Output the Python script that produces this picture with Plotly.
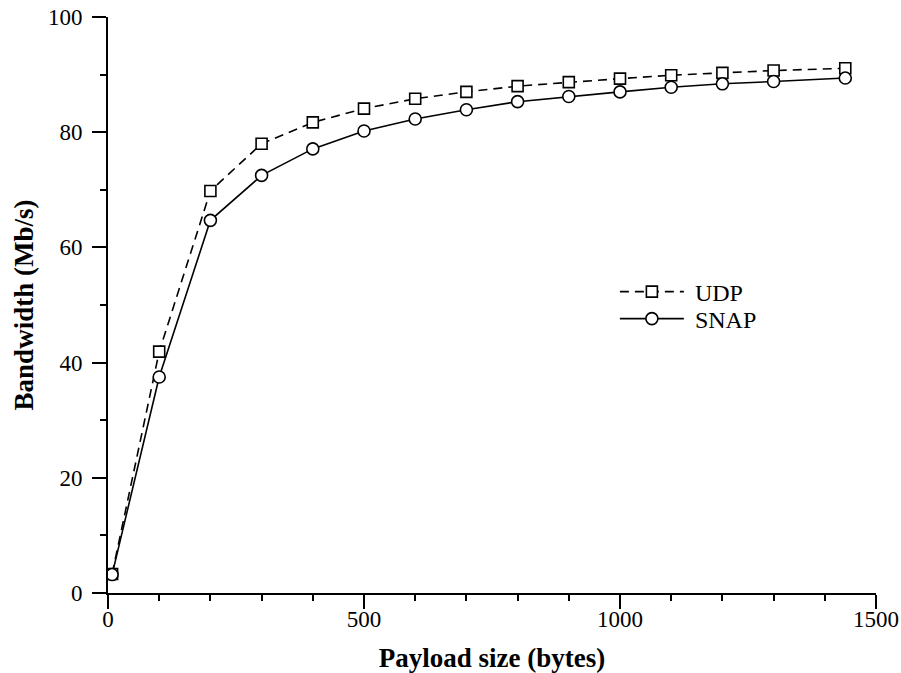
import plotly.graph_objects as go

payload = [8, 100, 200, 300, 400, 500, 600, 700, 800, 900, 1000, 1100, 1200, 1300, 1440]
udp = [3.3, 41.9, 69.8, 78.0, 81.7, 84.1, 85.8, 87.0, 88.0, 88.7, 89.3, 89.9, 90.3, 90.7, 91.1]
snap = [3.2, 37.5, 64.7, 72.5, 77.1, 80.2, 82.3, 83.9, 85.3, 86.2, 87.0, 87.8, 88.4, 88.8, 89.4]
series_names = ["UDP", "SNAP"]
x_ticks = [0, 500, 1000, 1500]
y_ticks = [0, 20, 40, 60, 80, 100]
x_range = [0, 1500]

font_family = "Liberation Serif, Times New Roman, serif"

fig = go.Figure()
fig.add_trace(go.Scatter(
    x=payload, y=udp, name=" " + series_names[0], mode="lines+markers",
    line=dict(color="black", width=1.6, dash="9px,6px"),
    marker=dict(symbol="square", size=11, color="white",
                line=dict(color="black", width=1.6)),
    legend="legend",
))
fig.add_trace(go.Scatter(
    x=payload, y=snap, name=" " + series_names[1], mode="lines+markers",
    line=dict(color="black", width=1.6),
    marker=dict(symbol="circle", size=12, color="white",
                line=dict(color="black", width=1.6)),
    legend="legend2", xaxis="x2", yaxis="y",
))

tickfont = dict(family=font_family, size=23, color="black")

fig.update_layout(
    xaxis=dict(
        range=x_range, tickvals=x_ticks, showticklabels=False,
        showgrid=False, zeroline=False, showline=True, linecolor="black", linewidth=2,
        ticks="outside", ticklen=14, tickwidth=2, tickcolor="black",
        minor=dict(dtick=100, ticks="outside", ticklen=6, tickwidth=2, tickcolor="black"),
        title=dict(text="<b>Payload size (bytes)</b>", font=dict(family=font_family, size=27, color="black"), standoff=42),
    ),
    xaxis2=dict(
        range=x_range, tickvals=x_ticks, overlaying="x", anchor="y", side="bottom",
        showgrid=False, zeroline=False, showline=False, ticks="", ticklabelstandoff=10,
        tickfont=tickfont,
    ),
    yaxis=dict(
        range=[0, 100], tickvals=y_ticks,
        showgrid=False, zeroline=False, showline=True, linecolor="black", linewidth=2,
        ticks="outside", ticklen=14, tickwidth=2, tickcolor="black",
        minor=dict(dtick=10, ticks="outside", ticklen=6, tickwidth=2, tickcolor="black"),
        tickfont=tickfont, ticklabelstandoff=5,
        title=dict(text="<b>Bandwidth (Mb/s)</b>", font=dict(family=font_family, size=27, color="black"), standoff=6),
    ),
)

legend_common = dict(
    xanchor="left", yanchor="middle",
    font=dict(family=font_family, size=24, color="black"),
    bgcolor="rgba(0,0,0,0)", itemwidth=64,
)

fig.update_layout(
    width=901, height=673,
    margin=dict(l=108, r=25, t=17, b=80, autoexpand=False),
    paper_bgcolor="white", plot_bgcolor="white",
    showlegend=True,
    legend=dict(x=0.66, y=0.5226, **legend_common),
    legend2=dict(x=0.66, y=0.4757, **legend_common),
)

fig.write_html("out.html", config={"displayModeBar": False},
               post_script="document.body.style.margin='0';document.body.style.overflow='hidden';")
